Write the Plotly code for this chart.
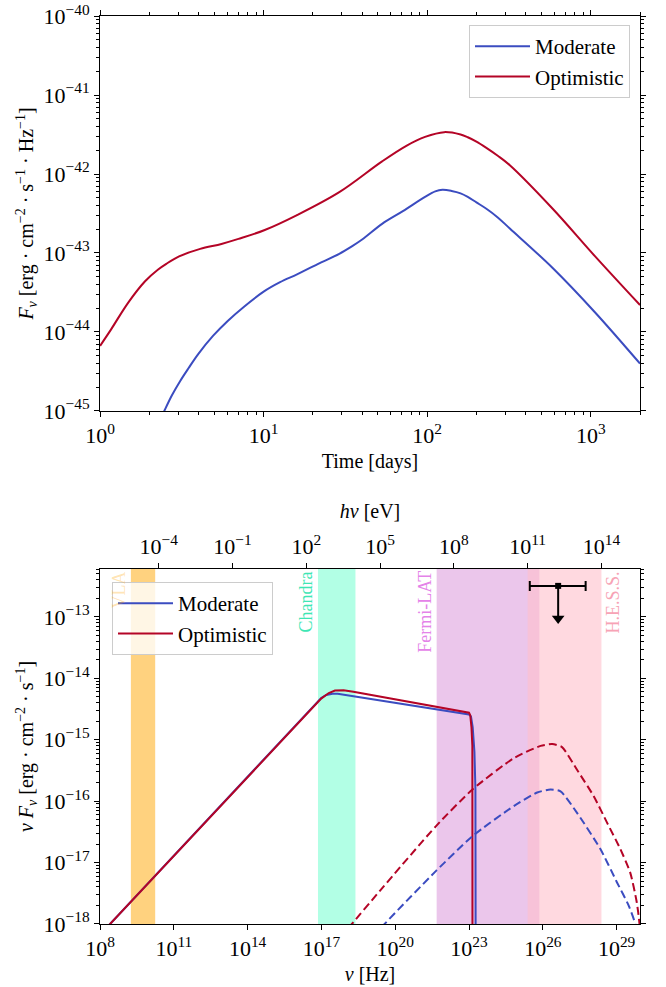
import numpy as np
import plotly.graph_objects as go

# ---------------- Data ----------------
# Top panel: light curves F_nu(t)  [days], [erg cm^-2 s^-1 Hz^-1]
t_opt = [1.0, 1.168, 1.483, 1.884, 2.254, 2.541, 3.041, 4.093, 5.521, 7.015, 10.16, 16, 29, 53, 75, 97, 127,
         160, 177, 200, 230, 270, 320, 585, 1060, 2000]
F_opt = [6.68e-45, 1.08e-44, 2.34e-44, 4.39e-44, 6.14e-44, 7.29e-44, 9.04e-44, 1.127e-43, 1.303e-43,
         1.507e-43, 1.954e-43, 3.02e-43, 5.89e-43, 1.445e-42, 2.29e-42, 2.95e-42, 3.39e-42, 3.16e-42,
         2.92e-42, 2.57e-42, 2.14e-42, 1.70e-42, 1.29e-42, 3.63e-43, 9.12e-44, 2.19e-44]
t_mod = [2.3, 2.47, 2.75, 3.09, 3.47, 3.98, 4.9, 6.03, 7.59, 10, 12.6, 16, 21.4, 29, 35, 40, 53, 71, 97, 112,
         124, 141, 160, 177, 200, 230, 270, 320, 585, 1060, 2000]
F_mod = [7.24e-46, 1.0e-45, 1.58e-45, 2.40e-45, 3.47e-45, 5.25e-45, 8.91e-45, 1.38e-44, 2.09e-44, 3.24e-44,
         4.27e-44, 5.37e-44, 7.24e-44, 9.77e-44, 1.23e-43, 1.48e-43, 2.34e-43, 3.39e-43, 5.13e-43, 6.03e-43,
         6.31e-43, 6.10e-43, 5.69e-43, 5.13e-43, 4.37e-43, 3.63e-43, 2.82e-43, 2.04e-43, 6.46e-44, 1.78e-44,
         3.98e-45]

# Bottom panel: SED (log10 nu [Hz], log10 nuFnu [erg cm^-2 s^-1])
syn_mod_lognu = [8.0, 8.41, 16.99, 17.2, 17.45, 17.66, 23.0, 23.08, 23.15, 23.22, 23.26, 23.27, 23.27]
syn_mod_logf = [-18.18, -18.0, -14.32, -14.27, -14.25, -14.25, -14.59, -14.62, -14.8, -15.2, -15.8, -16.5, -18.5]
syn_opt_lognu = [8.0, 8.41, 16.99, 17.3, 17.55, 17.9, 18.3, 23.0, 23.05, 23.1, 23.135, 23.14, 23.14]
syn_opt_logf = [-18.18, -18.0, -14.33, -14.24, -14.2, -14.195, -14.22, -14.56, -14.6, -14.8, -15.1, -15.6, -18.5]

ic_opt_lognu = [18.1, 18.24, 19.42, 21.65, 23.14, 24.82, 25.91, 26.38, 26.78, 27.39, 28.07, 28.61, 29.15, 29.55, 29.82, 29.93, 29.97]
ic_opt_logf = [-18.07, -18.0, -17.44, -16.41, -15.81, -15.30, -15.10, -15.07, -15.12, -15.49, -15.92, -16.35, -16.78, -17.16, -17.65, -18.0, -18.3]
ic_mod_lognu = [19.45, 19.57, 21.65, 23.14, 24.82, 25.77, 26.31, 26.72, 27.39, 28.34, 29.01, 29.49, 29.76, 29.8]
ic_mod_logf = [-18.06, -18.0, -17.14, -16.57, -16.08, -15.86, -15.81, -15.84, -16.19, -16.78, -17.32, -17.70, -18.0, -18.1]

# Instrument bands
vla_hz = [1.8e9, 1.75e10]
chandra_ev = [3.0e2, 1.0e4]
fermi_ev = [2.0e7, 3.0e11]
hess_ev = [1.0e11, 1.0e14]

# H.E.S.S. upper limit
ul_nu = 4.2e26
ul_nu_lo = 2.95e25
ul_nu_hi = 5.5e27
ul_flux = 3.2e-13

H_EV_S = 4.135667696e-15  # Planck constant [eV s]

# tick decades
t_decades = [0, 1, 2, 3]
F_decades = [-45, -44, -43, -42, -41, -40]
nu_decades = [8, 11, 14, 17, 20, 23, 26, 29]
ev_decades = [-4, -1, 2, 5, 8, 11, 14]
nuF_decades = [-18, -17, -16, -15, -14, -13]

# ---------------- Style ----------------
BLUE = "#3b4cc0"
RED = "#b40426"
FONT = "Liberation Serif, Times New Roman, serif"
W, H = 666, 987
XD = [100 / W, 640 / W]
YD_TOP = [1 - 411 / H, 1 - 16 / H]
YD_BOT = [1 - 924 / H, 1 - 569 / H]


def sup(d):
    s = str(d).replace("-", "−")
    return "10<sup>" + s + "</sup>"


def minors(lo, hi):
    return [k * 10.0 ** n for n in range(lo, hi) for k in range(2, 10)]


fig = go.Figure()

fig.add_trace(go.Scatter(x=t_mod, y=F_mod, mode="lines", name="Moderate",
                         line=dict(color=BLUE, width=2, shape="spline", smoothing=1.0),
                         xaxis="x", yaxis="y", legend="legend"))
fig.add_trace(go.Scatter(x=t_opt, y=F_opt, mode="lines", name="Optimistic",
                         line=dict(color=RED, width=2, shape="spline", smoothing=1.0),
                         xaxis="x", yaxis="y", legend="legend"))


def hz(lognu):
    return 10 ** np.array(lognu)


fig.add_trace(go.Scatter(x=hz(syn_mod_lognu), y=hz(syn_mod_logf), mode="lines", name="Moderate",
                         line=dict(color=BLUE, width=2), xaxis="x2", yaxis="y2", legend="legend2"))
fig.add_trace(go.Scatter(x=hz(syn_opt_lognu), y=hz(syn_opt_logf), mode="lines", name="Optimistic",
                         line=dict(color=RED, width=2), xaxis="x2", yaxis="y2", legend="legend2"))
fig.add_trace(go.Scatter(x=hz(ic_opt_lognu), y=hz(ic_opt_logf), mode="lines", showlegend=False,
                         line=dict(color=RED, width=2, dash="8px,4px", shape="spline", smoothing=0.6),
                         xaxis="x2", yaxis="y2"))
fig.add_trace(go.Scatter(x=hz(ic_mod_lognu), y=hz(ic_mod_logf), mode="lines", showlegend=False,
                         line=dict(color=BLUE, width=2, dash="8px,4px", shape="spline", smoothing=0.6),
                         xaxis="x2", yaxis="y2"))

# upper limit
ul_tip = ul_flux / 3.4
fig.add_trace(go.Scatter(x=[ul_nu], y=[ul_flux], mode="markers", showlegend=False,
                         marker=dict(symbol="square", size=6, color="black"),
                         error_x=dict(type="data", symmetric=False, array=[ul_nu_hi - ul_nu],
                                      arrayminus=[ul_nu - ul_nu_lo], color="black", thickness=2, width=5),
                         xaxis="x2", yaxis="y2"))
fig.add_trace(go.Scatter(x=[ul_nu, ul_nu], y=[ul_flux, ul_tip], mode="lines", showlegend=False,
                         line=dict(color="black", width=2), xaxis="x2", yaxis="y2"))
fig.add_trace(go.Scatter(x=[ul_nu], y=[ul_tip], mode="markers", showlegend=False,
                         marker=dict(symbol="triangle-down", size=11, color="black"),
                         xaxis="x2", yaxis="y2"))

fig.add_trace(go.Scatter(x=chandra_ev, y=[1e-15, 1e-15], mode="markers", showlegend=False,
                         marker=dict(opacity=0), hoverinfo="skip", xaxis="x3", yaxis="y2"))

# (lo, hi, fill, label, label colour, label side)
bands = [
    (vla_hz[0], vla_hz[1], "rgba(255,165,0,0.5)", "VLA", "rgba(255,165,0,0.3)", "lo"),
    (chandra_ev[0] / H_EV_S, chandra_ev[1] / H_EV_S, "rgba(127,255,212,0.6)", "Chandra", "#3ee6b4", "lo"),
    (fermi_ev[0] / H_EV_S, fermi_ev[1] / H_EV_S, "rgba(221,160,221,0.6)", "Fermi-LAT", "#e483e8", "lo"),
    (hess_ev[0] / H_EV_S, hess_ev[1] / H_EV_S, "rgba(255,192,203,0.6)", "H.E.S.S.", "#f7a3b5", "hi"),
]
shapes = []
annotations = []
for x0, x1, col, lab, tcol, side in bands:
    shapes.append(dict(type="rect", xref="x2", yref="y2 domain", x0=x0, x1=x1, y0=0, y1=1,
                       fillcolor=col, line=dict(width=0), layer="below"))
    annotations.append(dict(x=np.log10(x0 if side == "lo" else x1), y=1, xref="x2", yref="y2 domain",
                            text=lab, textangle=-90, xanchor="right" if side == "lo" else "left",
                            yanchor="top", showarrow=False,
                            font=dict(family=FONT, size=18, color=tcol)))

tickfont = dict(family=FONT, size=22, color="black")
common = dict(showline=True, linecolor="black", linewidth=1, ticks="outside", ticklen=5,
              tickcolor="black", showgrid=False, zeroline=False, tickfont=tickfont,
              automargin=False, tickmode="array", ticklabeloverflow="allow")
tfont = dict(family=FONT, size=20, color="black")


def minor_cfg(vals):
    return dict(ticks="outside", ticklen=3, tickcolor="black", showgrid=False,
                tickmode="array", tickvals=vals)


legend_common = dict(bgcolor="rgba(255,255,255,0.8)", bordercolor="#cccccc", borderwidth=1,
                     font=dict(family=FONT, size=21), itemwidth=55)

fig.update_layout(
    width=W, height=H, margin=dict(l=0, r=0, t=0, b=0),
    paper_bgcolor="white", plot_bgcolor="white",
    font=dict(family=FONT, size=20, color="black"),
    xaxis=dict(domain=XD, anchor="y", type="log", range=[-0.0005, np.log10(2000)],
               tickvals=[10.0 ** d for d in t_decades], ticktext=[sup(d) for d in t_decades],
               mirror="ticks", minor=minor_cfg(minors(0, 4)),
               title=dict(text="Time [days]", font=tfont, standoff=6), **common),
    yaxis=dict(domain=YD_TOP, anchor="x", type="log", range=[-45.0005, -39.9995],
               tickvals=[10.0 ** d for d in F_decades], ticktext=[sup(d) for d in F_decades],
               mirror="ticks", minor=minor_cfg(minors(-45, -40)),
               title=dict(text="<i>F<sub>ν</sub></i> [erg · cm<sup>−2</sup> · s<sup>−1</sup> · Hz<sup>−1</sup>]",
                          font=tfont, standoff=4), **common),
    xaxis2=dict(domain=XD, anchor="y2", type="log", range=[7.9995, 29.95],
                tickvals=[10.0 ** d for d in nu_decades], ticktext=[sup(d) for d in nu_decades],
                mirror=True,
                title=dict(text="<i>ν</i> [Hz]", font=tfont, standoff=6), **common),
    yaxis2=dict(domain=YD_BOT, anchor="x2", type="log", range=[-18.0005, -12.22],
                tickvals=[10.0 ** d for d in nuF_decades], ticktext=[sup(d) for d in nuF_decades],
                mirror="ticks", minor=minor_cfg(minors(-18, -12)),
                title=dict(text="<i>ν F<sub>ν</sub></i> [erg · cm<sup>−2</sup> · s<sup>−1</sup>]",
                           font=tfont, standoff=4), **common),
    xaxis3=dict(overlaying="x2", anchor="y2", side="top", type="log",
                range=[7.9995 + np.log10(H_EV_S), 29.95 + np.log10(H_EV_S)],
                tickvals=[10.0 ** d for d in ev_decades], ticktext=[sup(d) for d in ev_decades],
                title=dict(text="<i>hν</i> [eV]", font=tfont, standoff=6), **common),
    legend=dict(x=630 / W, y=1 - 25 / H, xanchor="right", yanchor="top", **legend_common),
    legend2=dict(x=112 / W, y=1 - 582 / H, xanchor="left", yanchor="top", **legend_common),
    shapes=shapes, annotations=annotations, showlegend=True,
)

fig.write_html("out.html")
